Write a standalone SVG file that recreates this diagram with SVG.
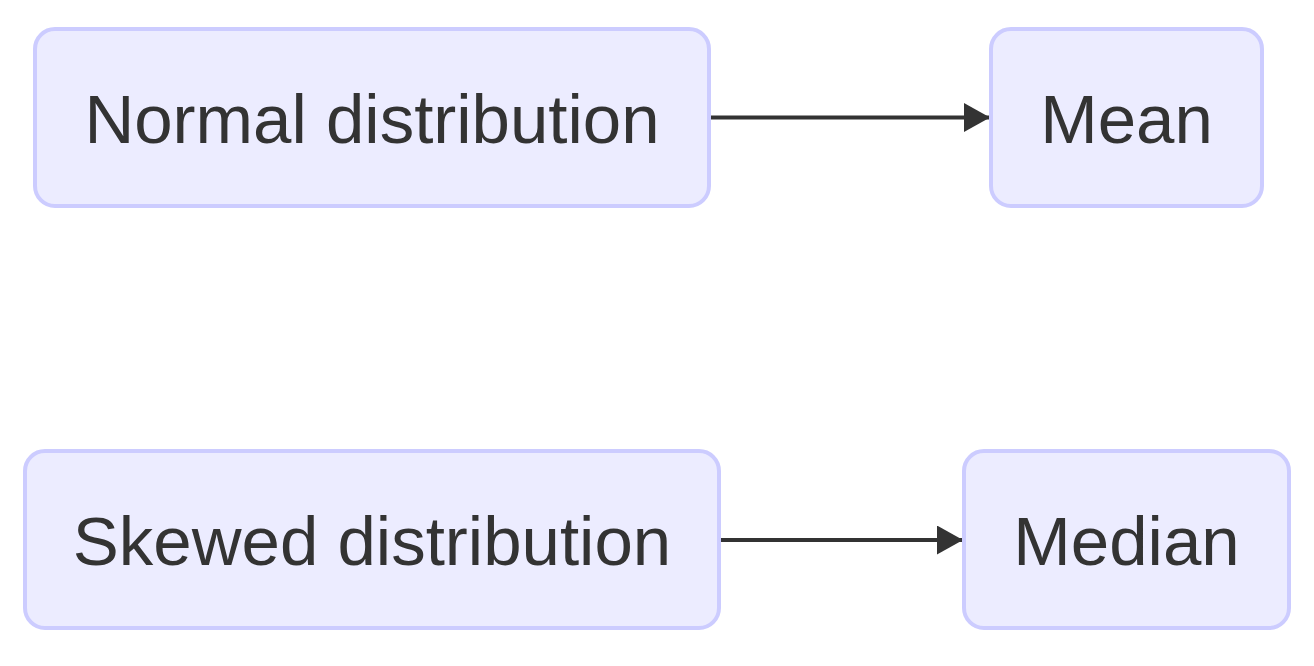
<svg xmlns="http://www.w3.org/2000/svg" width="1314" height="666" viewBox="0 0 1314 666">
<style>
.node rect{fill:#ECECFF;stroke:#CCCCFF;stroke-width:4}
.node text{font-family:"Liberation Sans",Arial,sans-serif;font-size:69px;fill:#333333;text-anchor:middle}
.edge{stroke:#333333;stroke-width:4;fill:none}
</style>
<defs>
<marker id="arrow" viewBox="0 0 10 10" refX="10" refY="5" markerUnits="userSpaceOnUse" markerWidth="26" markerHeight="29" preserveAspectRatio="none" orient="auto">
<path d="M0,0 L10,5 L0,10 z" fill="#333333"/>
</marker>
</defs>
<rect width="1314" height="666" fill="#ffffff"/>
<g id="connectors">
<path class="edge" d="M711,117.5 L990,117.5" marker-end="url(#arrow)"/>
<path class="edge" d="M721,540 L963,540" marker-end="url(#arrow)"/>
</g>
<g id="normal" class="node">
<rect x="35" y="29" width="674" height="177" rx="20" ry="20"/>
<text x="372" y="143">Normal distribution</text>
</g>
<g id="mean" class="node">
<rect x="991" y="29" width="271" height="177" rx="20" ry="20"/>
<text x="1126.5" y="143">Mean</text>
</g>
<g id="skewed" class="node">
<rect x="25" y="451" width="694" height="177" rx="20" ry="20"/>
<text x="372" y="565">Skewed distribution</text>
</g>
<g id="median" class="node">
<rect x="964" y="451" width="325" height="177" rx="20" ry="20"/>
<text x="1126.5" y="565">Median</text>
</g>
</svg>
